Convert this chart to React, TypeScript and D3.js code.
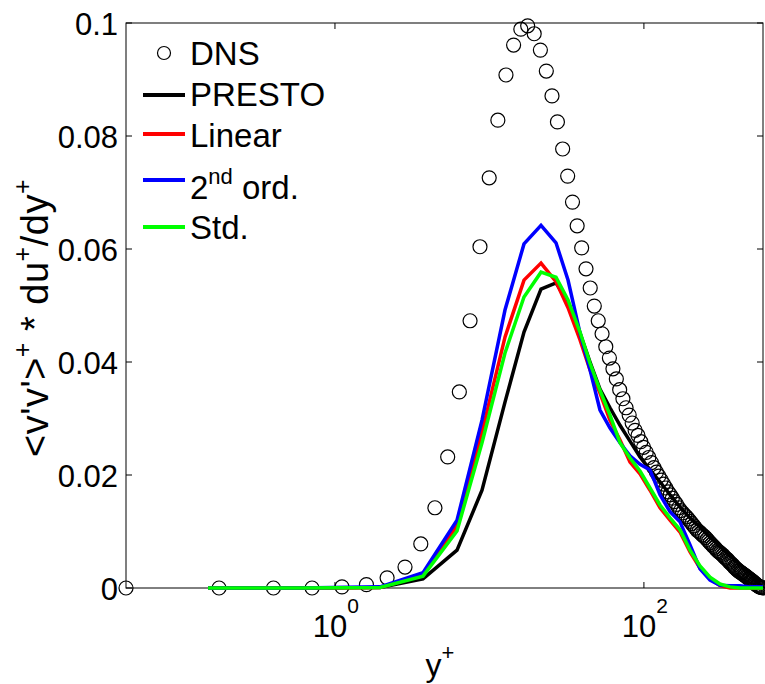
import React from "react";
import * as d3 from "d3";

// ---------- DATA ----------
const dnsYPlus = [
  0.0444, 0.1777, 0.3998, 0.7107, 1.1103, 1.5986, 2.1755, 2.8411, 3.5949, 4.4369,
  5.3671, 6.3852, 7.4911, 8.6846, 9.9652, 11.337, 12.793, 14.336, 15.965, 17.682,
  19.484, 21.372, 23.346, 25.405, 27.549, 29.778, 32.091, 34.489, 36.970, 39.535,
  42.182, 44.911, 47.723, 50.616, 53.591, 56.646, 59.782, 62.998, 66.292, 69.666,
  73.118, 76.649, 80.256, 83.940, 87.700, 91.536, 95.448, 99.432, 103.49, 107.63,
  111.83, 116.11, 120.46, 124.88, 129.36, 133.92, 138.55, 143.25, 148.01, 152.84,
  157.73, 162.69, 167.72, 172.81, 177.96, 183.17, 188.45, 193.78, 199.17, 204.63,
  210.14, 215.71, 221.33, 227.01, 232.75, 238.54, 244.38, 250.27, 256.22, 262.21,
  268.26, 274.35, 280.49, 286.68, 292.91, 299.19, 305.51, 311.88, 318.28, 324.73,
  331.22, 337.74, 344.31, 350.91, 357.54, 364.22, 370.92, 377.66, 384.43, 391.23,
  398.07, 404.93, 411.82, 418.73, 425.67, 432.64, 439.63, 446.64, 453.68, 460.73,
  467.80, 474.90, 482.01, 489.13, 496.27, 503.43, 510.60, 517.78, 524.97, 532.17,
  539.38, 546.60, 553.82, 561.05, 568.28, 575.52, 582.76, 590.0,
];
const dnsValue = [
  0, 0, 0, 0, 0.0002, 0.0006, 0.0018, 0.0037, 0.0078, 0.0142,
  0.0232, 0.0347, 0.0473, 0.0604, 0.0726, 0.0828, 0.0908, 0.0961, 0.0989, 0.0995,
  0.0981, 0.0952, 0.0915, 0.0871, 0.0825, 0.0777, 0.0729, 0.0683, 0.0641, 0.0602,
  0.0565, 0.0531, 0.0499, 0.0473, 0.0450, 0.0427, 0.0407, 0.0388, 0.0370, 0.0351,
  0.0335, 0.0319, 0.0306, 0.0292, 0.0279, 0.0270, 0.0259, 0.0249, 0.0240, 0.0231,
  0.0222, 0.0213, 0.0205, 0.0198, 0.0191, 0.0184, 0.0177, 0.0170, 0.0165, 0.0159,
  0.0153, 0.0148, 0.0142, 0.0137, 0.0133, 0.0129, 0.0126, 0.0122, 0.0118, 0.0114,
  0.0110, 0.0106, 0.0102, 0.0100, 0.0097, 0.0094, 0.0092, 0.0089, 0.0086, 0.0083,
  0.0080, 0.0077, 0.0074, 0.0072, 0.0069, 0.0066, 0.0064, 0.0062, 0.0060, 0.0058,
  0.0055, 0.0053, 0.0051, 0.0049, 0.0046, 0.0044, 0.0042, 0.0040, 0.0037, 0.0035,
  0.0033, 0.0031, 0.0030, 0.0028, 0.0027, 0.0026, 0.0024, 0.0023, 0.0022, 0.0020,
  0.0019, 0.0017, 0.0016, 0.0015, 0.0013, 0.0012, 0.0011, 0.0009, 0.0008, 0.0006,
  0.0005, 0.0004, 0.0003, 0.0002, 0.00015, 0.0001, 0.00005, 0,
];

const modelYPlus = [
  0.1508, 0.594, 1.957, 3.715, 6.168, 8.952, 12.61, 16.74, 21.57, 26.97,
  32.26, 38.58, 44.77, 51.95, 60.32, 70.02, 81.26, 94.34, 109.5, 127.1,
  147.5, 171.2, 198.8, 230.7, 267.8, 310.8, 360.8, 418.8, 486.1, 590.0,
];
const presto = [
  0, 0, 0.0001, 0.0016, 0.0067, 0.0173, 0.0329, 0.0453, 0.0529, 0.0540,
  0.0506, 0.0451, 0.0400, 0.0352, 0.0319, 0.0288, 0.0260, 0.0232, 0.0209, 0.0188,
  0.0165, 0.0143, 0.0124, 0.0108, 0.0090, 0.0074, 0.0057, 0.0042, 0.0027, 0,
];
const linear = [
  0, 0, 0.0001, 0.0023, 0.0110, 0.0276, 0.0444, 0.0545, 0.0575, 0.0542,
  0.0496, 0.0439, 0.0386, 0.0345, 0.0297, 0.0262, 0.0223, 0.0202, 0.0173, 0.0142,
  0.0120, 0.0099, 0.0064, 0.0035, 0.0016, 0.0004, 0, 0, 0, 0,
];
const secondOrd = [
  0, 0, 0.0002, 0.0027, 0.0120, 0.0297, 0.0492, 0.0609, 0.0642, 0.0611,
  0.0545, 0.0451, 0.0386, 0.0315, 0.0283, 0.0257, 0.0234, 0.0219, 0.0209, 0.0165,
  0.0135, 0.0117, 0.0076, 0.0034, 0.0014, 0.0005, 0.0004, 0.0004, 0.0002, 0.0002,
];
const std = [
  0, 0, 0.0001, 0.0021, 0.0101, 0.0257, 0.0416, 0.0515, 0.0559, 0.0550,
  0.0510, 0.0453, 0.0398, 0.0350, 0.0306, 0.0257, 0.0230, 0.0207, 0.0177, 0.0147,
  0.0124, 0.0103, 0.0067, 0.0039, 0.0019, 0.0007, 0.0002, 0, 0, 0,
];

const yTicks = [0, 0.02, 0.04, 0.06, 0.08, 0.1];
const yTickLabels = ["0", "0.02", "0.04", "0.06", "0.08", "0.1"];
const xTicks = [1, 100];
const xTickExponents = ["0", "2"];

const seriesNames = ["PRESTO", "Linear", "2nd ord.", "Std."];
const seriesColors = ["#000000", "#ff0000", "#0000ff", "#00ff00"];

// ---------- LAYOUT ----------
const W = 765;
const H = 684;
const L = 126;
const R = 763;
const T = 23;
const B = 588;
const FONT = "'Liberation Sans', Arial, Helvetica, sans-serif";

export default function App() {
  const x = d3.scaleLog().domain([0.0444, 590]).range([L, R]);
  const y = d3.scaleLinear().domain([0, 0.1]).range([B, T]);

  const line = d3
    .line<number>()
    .x((_, i) => x(modelYPlus[i]))
    .y((d) => y(d));

  const seriesData = [presto, linear, secondOrd, std];

  const tickLen = 6;

  return (
    <svg
      width={W}
      height={H}
      style={{ position: "absolute", left: 0, top: 0, background: "#fff" }}
      fontFamily={FONT}
    >
      <rect x={0} y={0} width={W} height={H} fill="#fff" />
      <defs>
        <clipPath id="plotclip">
          <rect x={L - 10} y={T - 10} width={R - L + 20} height={B - T + 20} />
        </clipPath>
      </defs>

      {/* frame */}
      <rect x={L} y={T} width={R - L} height={B - T} fill="none" stroke="#000" strokeWidth={1} />

      {/* y ticks */}
      {yTicks.map((t, i) => (
        <g key={"yt" + i}>
          <line x1={L} x2={L + tickLen} y1={y(t)} y2={y(t)} stroke="#000" />
          <line x1={R} x2={R - tickLen} y1={y(t)} y2={y(t)} stroke="#000" />
          <text x={118} y={y(t) + 12} fontSize={31} textAnchor="end" fill="#000">
            {yTickLabels[i]}
          </text>
        </g>
      ))}

      {/* x ticks */}
      {xTicks.map((t, i) => (
        <g key={"xt" + i}>
          <line x1={x(t)} x2={x(t)} y1={B} y2={B - tickLen} stroke="#000" />
          <line x1={x(t)} x2={x(t)} y1={T} y2={T + tickLen} stroke="#000" />
          <text x={x(t) + 1} y={637} fontSize={31} textAnchor="middle" fill="#000">
            10
            <tspan dy={-24} fontSize={21}>
              {xTickExponents[i]}
            </tspan>
          </text>
        </g>
      ))}

      {/* DNS circles */}
      <g clipPath="url(#plotclip)">
        {dnsYPlus.map((v, i) => (
          <circle
            key={"dns" + i}
            cx={x(v)}
            cy={y(dnsValue[i])}
            r={7}
            fill="none"
            stroke="#000"
            strokeWidth={1.2}
          />
        ))}
      </g>

      {/* model lines */}
      {seriesData.map((s, k) => (
        <path
          key={"s" + k}
          d={line(s) || ""}
          fill="none"
          stroke={seriesColors[k]}
          strokeWidth={3.5}
          strokeLinejoin="miter"
        />
      ))}

      {/* legend */}
      <circle cx={164} cy={53} r={6.5} fill="none" stroke="#000" strokeWidth={1.2} />
      <text x={190} y={65} fontSize={33} fill="#000">DNS</text>
      {[95, 134, 180, 227].map((ly, k) => (
        <line key={"ll" + k} x1={143} x2={185} y1={ly} y2={ly} stroke={seriesColors[k]} strokeWidth={4} />
      ))}
      <text x={190} y={106} fontSize={33} fill="#000">{seriesNames[0]}</text>
      <text x={190} y={147} fontSize={33} fill="#000">{seriesNames[1]}</text>
      <text x={190} y={199} fontSize={33} fill="#000">
        2<tspan dy={-15} fontSize={22}>nd</tspan>
        <tspan dy={15}> ord.</tspan>
      </text>
      <text x={190} y={239} fontSize={33} fill="#000">{seriesNames[3]}</text>

      {/* axis labels */}
      <text x={440} y={676} fontSize={32} textAnchor="middle" fill="#000">
        y<tspan dy={-16} fontSize={22}>+</tspan>
      </text>
      <text
        transform="translate(48,318) rotate(-90)"
        fontSize={38}
        letterSpacing={0.5}
        textAnchor="middle"
        fill="#000"
      >
        {"<v'v'>"}
        <tspan dy={-17} fontSize={25}>+</tspan>
        <tspan dy={17}>{" * du"}</tspan>
        <tspan dy={-17} fontSize={25}>+</tspan>
        <tspan dy={17}>/dy</tspan>
        <tspan dy={-17} fontSize={25}>+</tspan>
      </text>
    </svg>
  );
}
